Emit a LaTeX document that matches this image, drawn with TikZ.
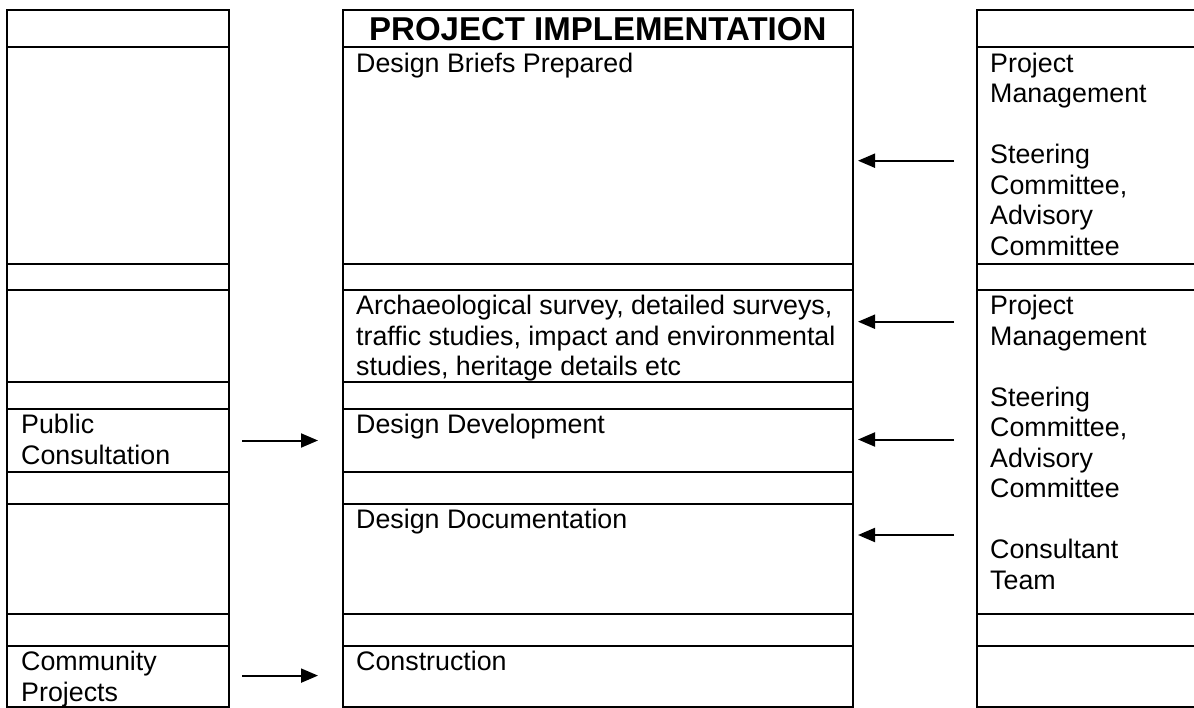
\documentclass[tikz,border=0pt]{standalone}
\usepackage{fontspec}
\setmainfont{Liberation Sans}
\usetikzlibrary{arrows.meta}
\begin{document}
\begin{tikzpicture}[x=1pt,y=-1pt,
  cell/.style={draw, line width=2pt, inner sep=0pt, outer sep=0pt, anchor=north west},
  body/.style={anchor=north west, inner sep=0pt, align=left,
    font=\fontsize{26.8}{30.5}\selectfont},
  heading/.style={anchor=base, inner sep=0pt, font=\fontsize{33}{38}\selectfont\bfseries},
  flow/.style={line width=2pt, -{Triangle[length=17pt,width=14pt]}}]
\useasboundingbox (0,0) rectangle (1194,708);

% left and middle columns: ten rows each
\foreach \c/\xa/\xb in {L/7/229, M/343/852.5}{
  \foreach \i/\ya/\yb in {0/10/47.5, 1/47.5/264, 2/264/290, 3/290/382.5, 4/382.5/409,
                          5/409/471.5, 6/471.5/504, 7/504/613.5, 8/613.5/646, 9/646/706.5}{
    \node[cell, minimum width={\xb-\xa}, minimum height={\yb-\ya}] (\c\i) at (\xa,\ya) {};
  }
}
% right column: runs off the right edge, one tall cell in the middle
\foreach \i/\ya/\yb in {0/10/47.5, 1/47.5/264, 2/264/290, 3/290/613.5, 8/613.5/646, 9/646/706.5}{
  \node[cell, minimum width=230, minimum height={\yb-\ya}] (R\i) at (977,\ya) {};
}

% heading
\node[heading] (title) at ([yshift=7.2pt]M0.south) {PROJECT IMPLEMENTATION};

% middle column texts
\node[body] (brief) at ([xshift=13pt,yshift=-3.4pt]M1.north west) {\strut Design Briefs Prepared};
\node[body] (survey) at ([xshift=13pt,yshift=-3.4pt]M3.north west)
  {\strut Archaeological survey, detailed surveys,\\traffic studies, impact and environmental\\studies, heritage details etc};
\node[body] (develop) at ([xshift=13pt,yshift=-3.4pt]M5.north west) {\strut Design Development};
\node[body] (docs) at ([xshift=13pt,yshift=-3.4pt]M7.north west) {\strut Design Documentation};
\node[body] (build) at ([xshift=13pt,yshift=-3.4pt]M9.north west) {\strut Construction};

% left column texts
\node[body] (public) at ([xshift=14pt,yshift=-3.4pt]L5.north west) {\strut Public\\Consultation};
\node[body] (community) at ([xshift=14pt,yshift=-3.4pt]L9.north west) {\strut Community\\Projects};

% right column texts
\node[body] (mgmtA) at ([xshift=13pt,yshift=-3.4pt]R1.north west)
  {\strut Project\\Management\\\strut\\Steering\\Committee,\\Advisory\\Committee};
\node[body] (mgmtB) at ([xshift=13pt,yshift=-3.4pt]R3.north west)
  {\strut Project\\Management\\\strut\\Steering\\Committee,\\Advisory\\Committee\\\strut\\Consultant\\Team};

% arrow end points
\coordinate (ra1) at (954,160.7);  \coordinate (rb1) at (858,160.7);
\coordinate (ra2) at (954,321.7);  \coordinate (rb2) at (858,321.7);
\coordinate (ra3) at (954,439.5);  \coordinate (rb3) at (858,439.5);
\coordinate (ra4) at (954,535);    \coordinate (rb4) at (858,535);
\coordinate (la1) at (242,440.5);  \coordinate (lb1) at (318,440.5);
\coordinate (la2) at (242,675.6);  \coordinate (lb2) at (318,675.6);

\draw[flow] (ra1) -- (rb1);
\draw[flow] (ra2) -- (rb2);
\draw[flow] (ra3) -- (rb3);
\draw[flow] (ra4) -- (rb4);
\draw[flow] (la1) -- (lb1);
\draw[flow] (la2) -- (lb2);
\end{tikzpicture}
\end{document}
